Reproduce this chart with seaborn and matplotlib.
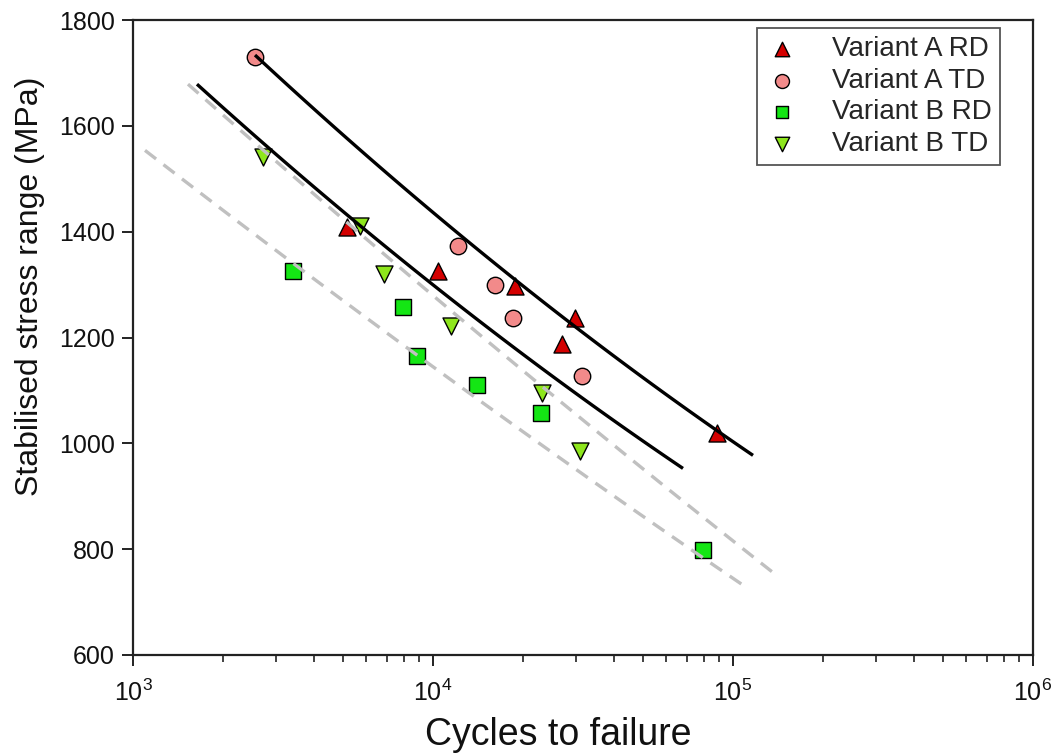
import numpy as np
import pandas as pd
import matplotlib
matplotlib.use("Agg")
import matplotlib.pyplot as plt
import seaborn as sns
from matplotlib.ticker import LogLocator, NullFormatter, FixedLocator

# ---------------- data ----------------
series_names = ["Variant A RD", "Variant A TD", "Variant B RD", "Variant B TD"]

a_rd_cycles = [5170, 10390, 18760, 29730, 26920, 88500]
a_rd_stress = [1409, 1326, 1298, 1237, 1188, 1019]
a_td_cycles = [2550, 12120, 16100, 18480, 31390]
a_td_stress = [1730, 1373, 1300, 1237, 1127]
b_rd_cycles = [3415, 7940, 8850, 14020, 22910, 79430]
b_rd_stress = [1326, 1258, 1165, 1110, 1057, 799]
b_td_cycles = [2713, 5710, 6870, 11480, 23070, 30900]
b_td_stress = [1542, 1411, 1320, 1222, 1095, 985]

# fit curves: stress = s0 + k1*(u-u0) + k2*(u-u0)^2, u = log10(N), drawn for u in [u_lo, u_hi]
fit_names = ["fit A", "fit B", "bound upper", "bound lower"]
fit_u_lo = [3.4067, 3.2133, 3.1833, 3.0400]
fit_u_hi = [5.0667, 4.8333, 5.1300, 5.0367]
fit_u0 = [4.2367, 4.0233, 4.1567, 4.0383]
fit_s0 = [1326.1, 1289.1, 1204.8, 1128.9]
fit_k1 = [-455.7, -448.2, -473.3, -412.1]
fit_k2 = [42.68, 40.47, 13.99, 13.34]

x_ticks = [1e3, 1e4, 1e5, 1e6]
y_ticks = [600, 800, 1000, 1200, 1400, 1600, 1800]

# ---------------- frames ----------------
pts = pd.DataFrame({
    "cycles": a_rd_cycles + a_td_cycles + b_rd_cycles + b_td_cycles,
    "stress": a_rd_stress + a_td_stress + b_rd_stress + b_td_stress,
    "series": ([series_names[0]] * len(a_rd_cycles) + [series_names[1]] * len(a_td_cycles)
               + [series_names[2]] * len(b_rd_cycles) + [series_names[3]] * len(b_td_cycles)),
})

rows = []
for i, name in enumerate(fit_names):
    u = np.linspace(fit_u_lo[i], fit_u_hi[i], 120)
    s = fit_s0[i] + fit_k1[i] * (u - fit_u0[i]) + fit_k2[i] * (u - fit_u0[i]) ** 2
    rows.append(pd.DataFrame({"cycles": 10 ** u, "stress": s, "fit": name}))
fits = pd.concat(rows, ignore_index=True)

# ---------------- style ----------------
sns.set_theme(style="white")
plt.rcParams["font.family"] = ["Liberation Sans", "DejaVu Sans"]
plt.rcParams["mathtext.fontset"] = "custom"
plt.rcParams["mathtext.rm"] = "Liberation Sans"

fig = plt.figure(figsize=(10.59, 7.54), dpi=100)
ax = fig.add_axes([133 / 1059, 1 - 655 / 754, 900 / 1059, 635 / 754])

palette = {series_names[0]: "#d40000", series_names[1]: "#f28a8a",
           series_names[2]: "#14e614", series_names[3]: "#8ee61c"}
markers = {series_names[0]: "^", series_names[1]: "o",
           series_names[2]: "s", series_names[3]: "v"}
sizes = {series_names[0]: 150, series_names[1]: 140, series_names[2]: 120, series_names[3]: 150}

for name in series_names:
    sub = pts[pts["series"] == name]
    sns.scatterplot(data=sub, x="cycles", y="stress", ax=ax, color=palette[name],
                    marker=markers[name], s=sizes[name], edgecolor="black",
                    linewidth=1.0, label=name, zorder=3)

line_styles = {"fit A": ("black", "-"), "fit B": ("black", "-"),
               "bound upper": ("#c0c0c0", "--"), "bound lower": ("#c0c0c0", "--")}
for name in fit_names:
    sub = fits[fits["fit"] == name]
    col, ls = line_styles[name]
    sns.lineplot(data=sub, x="cycles", y="stress", ax=ax, color=col, sort=False,
                 estimator=None, lw=2.4, legend=False, zorder=4)
    line = ax.lines[-1]
    line.set_solid_capstyle("butt")
    if ls == "--":
        line.set_dashes((4.2, 2.8))
        line.set_dash_capstyle("butt")

ax.set_xscale("log")
ax.set_xlim(1e3, 1e6)
ax.set_ylim(600, 1800)
ax.yaxis.set_major_locator(FixedLocator(y_ticks))
ax.xaxis.set_major_locator(FixedLocator(x_ticks))
ax.xaxis.set_minor_locator(LogLocator(base=10, subs=np.arange(2, 10)))
ax.xaxis.set_minor_formatter(NullFormatter())

for sp in ax.spines.values():
    sp.set_color("#222222")
    sp.set_linewidth(1.6)

ax.tick_params(axis="both", which="major", direction="out", length=8, width=1.4,
               color="#222222", labelsize=18, labelcolor="#111111", pad=5,
               bottom=True, left=True, top=False, right=False)
ax.tick_params(axis="x", which="minor", direction="out", length=5, width=1.2,
               color="#222222", bottom=True, top=False)
ax.tick_params(axis="x", which="major", pad=10)

ax.set_xlabel("Cycles to failure", fontsize=27, color="#111111")
ax.set_ylabel("Stabilised stress range (MPa)", fontsize=23, color="#111111")
ax.xaxis.set_label_coords((558 - 133) / 900, (655 - 735) / 635)
ax.yaxis.label.set_verticalalignment("center")
ax.xaxis.label.set_verticalalignment("center")
ax.yaxis.set_label_coords((30 - 133) / 900, (655 - 286) / 635)

h, lab = ax.get_legend_handles_labels()
leg = ax.legend(h[:4], lab[:4], loc="upper right",
                bbox_to_anchor=((1000 - 133) / 900, (655 - 28) / 635),
                fontsize=20, frameon=True, fancybox=False, framealpha=1,
                edgecolor="#555555", borderpad=0.3, labelspacing=0.2,
                handlelength=1.2, handletextpad=1.2, borderaxespad=0,
                markerscale=0.85)
leg.get_frame().set_linewidth(1.3)

fig.savefig("out.png", dpi=100)
